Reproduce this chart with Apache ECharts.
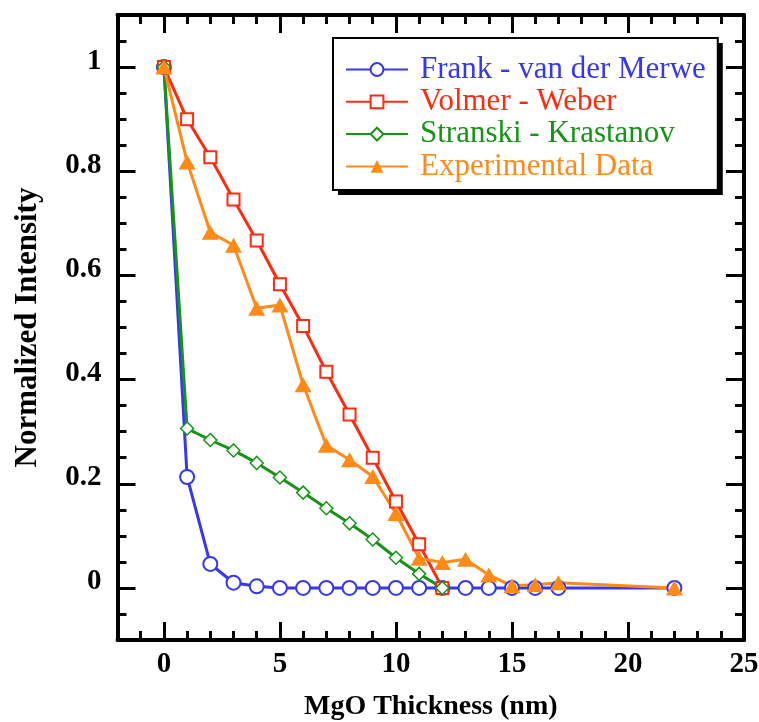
<!DOCTYPE html>
<html>
<head>
<meta charset="utf-8">
<script src="https://cdn.jsdelivr.net/npm/echarts@6/dist/echarts.min.js"></script>
<style>
html,body{margin:0;padding:0;background:#fff;}
#chart{width:759px;height:722px;}
</style>
</head>
<body>
<div id="chart"></div>
<script>
// ---- data ----
const xFM  = [0,1,2,3,4,5,6,7,8,9,10,11,12,13,14,15,16,17,22];
const yFM  = [1,0.213,0.046,0.01,0.003,0,0,0,0,0,0,0,0,0,0,0,0,0,0];
const xVW  = [0,1,2,3,4,5,6,7,8,9,10,11,12];
const yVW  = [1,0.9,0.827,0.746,0.667,0.583,0.503,0.415,0.333,0.25,0.166,0.084,0];
const xSK  = [0,1,2,3,4,5,6,7,8,9,10,11,12];
const ySK  = [1,0.306,0.284,0.264,0.24,0.212,0.183,0.153,0.124,0.093,0.058,0.027,0];
const xExp = [0,1,2,3,4,5,6,7,8,9,10,11,12,13,14,15,16,17,22];
const yExp = [1,0.818,0.683,0.658,0.537,0.543,0.39,0.274,0.246,0.214,0.143,0.057,0.049,0.055,0.025,0.004,0.006,0.01,0];
const seriesNames = ['Frank - van der Merwe','Volmer - Weber','Stranski - Krastanov','Experimental Data'];
const xTitle = 'MgO Thickness (nm)';
const yTitle = 'Normalized Intensity';
const xRange = [-2, 25], xMajor = [0, 25], xMajorStep = 5, xMinorStep = 1;
const yRange = [-0.1, 1.1], yMajor = [0, 1], yMajorStep = 0.2, yMinorStep = 0.05;

// ---- style ----
const C = {blue:'#3636f5', red:'#ff2a10', green:'#169416', orange:'#ff8a18'};
const FONT = '"Liberation Serif","Times New Roman",serif';
const L = 117.5, R = 15, T = 15, H = 625, W = 759 - L - R;
const B = 722 - T - H;
const TK = 18; // major tick length
const pxX = W / (xRange[1] - xRange[0]);
const pxY = H / (yRange[1] - yRange[0]);
const gxL = L + (xMajor[0]-xRange[0])*pxX, gxR = R + (xRange[1]-xMajor[1])*pxX;
const gyT = T + (yRange[1]-yMajor[1])*pxY, gyB = B + (yMajor[0]-yRange[0])*pxY;

const zip = (xs, ys) => xs.map((x, i) => [x, ys[i]]);

const frameLine = {show:true, onZero:false, lineStyle:{color:'#000', width:4}};
const noLine = {show:false, onZero:false};
const minorTick = {show:true, inside:true, length:9, lineStyle:{color:'#000', width:3}};
const majorSplit = {show:true, lineStyle:{color:'#000', width:3, type:'solid'}};
const labelStyle = {fontFamily:FONT, fontWeight:'bold', fontSize:29, color:'#000'};
const G = (o) => Object.assign({outerBoundsMode:'none', containLabel:false}, o);

const legendItems = [
  {name:seriesNames[0], textStyle:{color:C.blue}},
  {name:seriesNames[1], textStyle:{color:C.red}},
  {name:seriesNames[2], textStyle:{color:C.green}},
  {name:seriesNames[3], textStyle:{color:C.orange}}
];
const legendBase = {
  orient:'vertical',
  padding:[16,12,8,12], itemGap:1.3, itemWidth:62, itemHeight:16,
  textStyle:{fontFamily:FONT, fontSize:31, lineHeight:30, padding:[0,0,0,7]},
  data:legendItems
};

const hiddenX = (g) => ({gridIndex:g, type:'value', show:false, min:0, max:1});
const hiddenY = (g) => ({gridIndex:g, type:'value', show:false, min:0, max:1});

const chart = echarts.init(document.getElementById('chart'), null, {renderer:'canvas'});
chart.setOption({
  animation:false,
  backgroundColor:'#fff',
  grid:[
    G({left:L, right:R, top:T, bottom:B}),                         // 0 main plot
    G({left:gxL, right:gxR, top:T + H - TK, bottom:B}),             // 1 bottom major ticks
    G({left:gxL, right:gxR, top:T, height:TK}),                     // 2 top major ticks
    G({left:L, width:TK, top:gyT, bottom:gyB}),                     // 3 left major ticks
    G({right:R, width:TK, top:gyT, bottom:gyB})                     // 4 right major ticks
  ],
  xAxis:[
    {gridIndex:0, type:'value', position:'bottom', min:xRange[0], max:xRange[1], interval:xMinorStep,
     axisLine:frameLine, axisTick:minorTick, axisLabel:{show:false}, splitLine:{show:false},
     name:xTitle, nameLocation:'middle', nameGap:53,
     nameTextStyle:{fontFamily:FONT, fontWeight:'bold', fontSize:28, color:'#000'}},
    {gridIndex:0, type:'value', position:'top', min:xRange[0], max:xRange[1], interval:xMinorStep,
     axisLine:frameLine, axisTick:minorTick, axisLabel:{show:false}, splitLine:{show:false}},
    {gridIndex:1, type:'value', position:'bottom', min:xMajor[0], max:xMajor[1], interval:xMajorStep,
     axisLine:noLine, axisTick:{show:false}, axisLabel:Object.assign({margin:10}, labelStyle), splitLine:majorSplit},
    {gridIndex:2, type:'value', position:'top', min:xMajor[0], max:xMajor[1], interval:xMajorStep,
     axisLine:noLine, axisTick:{show:false}, axisLabel:{show:false}, splitLine:majorSplit},
    hiddenX(3), hiddenX(4)
  ],
  yAxis:[
    {gridIndex:0, type:'value', position:'left', min:yRange[0], max:yRange[1], interval:yMinorStep,
     axisLine:frameLine, axisTick:minorTick, axisLabel:{show:false}, splitLine:{show:false},
     name:yTitle, nameLocation:'middle', nameGap:74, nameRotate:90,
     nameTextStyle:{fontFamily:FONT, fontWeight:'bold', fontSize:31, color:'#000'}},
    {gridIndex:0, type:'value', position:'right', min:yRange[0], max:yRange[1], interval:yMinorStep,
     axisLine:frameLine, axisTick:minorTick, axisLabel:{show:false}, splitLine:{show:false}},
    hiddenY(1), hiddenY(2),
    {gridIndex:3, type:'value', position:'left', min:yMajor[0], max:yMajor[1], interval:yMajorStep,
     axisLine:noLine, axisTick:{show:false},
     axisLabel:Object.assign({margin:16, verticalAlign:'bottom', lineHeight:12}, labelStyle), splitLine:majorSplit},
    {gridIndex:4, type:'value', position:'right', min:yMajor[0], max:yMajor[1], interval:yMajorStep,
     axisLine:noLine, axisTick:{show:false}, axisLabel:{show:false}, splitLine:majorSplit}
  ],
  legend:[
    Object.assign({}, legendBase, {left:338, top:43, z:3, backgroundColor:'#000', borderWidth:0,
      selectedMode:false}),
    Object.assign({}, legendBase, {left:333, top:38, z:5, backgroundColor:'#fff', borderColor:'#000', borderWidth:2})
  ],
  series:[
    {name:seriesNames[0], type:'line', xAxisIndex:0, yAxisIndex:0, data:zip(xFM, yFM),
     symbol:'circle', symbolSize:14, showAllSymbol:true,
     lineStyle:{color:C.blue, width:3}, itemStyle:{color:'#fff', borderColor:C.blue, borderWidth:2}},
    {name:seriesNames[1], type:'line', xAxisIndex:0, yAxisIndex:0, data:zip(xVW, yVW),
     symbol:'rect', symbolSize:12, showAllSymbol:true,
     lineStyle:{color:C.red, width:3}, itemStyle:{color:'#fff', borderColor:C.red, borderWidth:2}},
    {name:seriesNames[2], type:'line', xAxisIndex:0, yAxisIndex:0, data:zip(xSK, ySK),
     symbol:'diamond', symbolSize:13, showAllSymbol:true,
     lineStyle:{color:C.green, width:3}, itemStyle:{color:'#fff', borderColor:C.green, borderWidth:1.5}},
    {name:seriesNames[3], type:'line', xAxisIndex:0, yAxisIndex:0, data:zip(xExp, yExp),
     symbol:'triangle', symbolSize:[17,15], showAllSymbol:true,
     lineStyle:{color:C.orange, width:3}, itemStyle:{color:C.orange, borderColor:C.orange, borderWidth:0}}
  ]
});
</script>
</body>
</html>
